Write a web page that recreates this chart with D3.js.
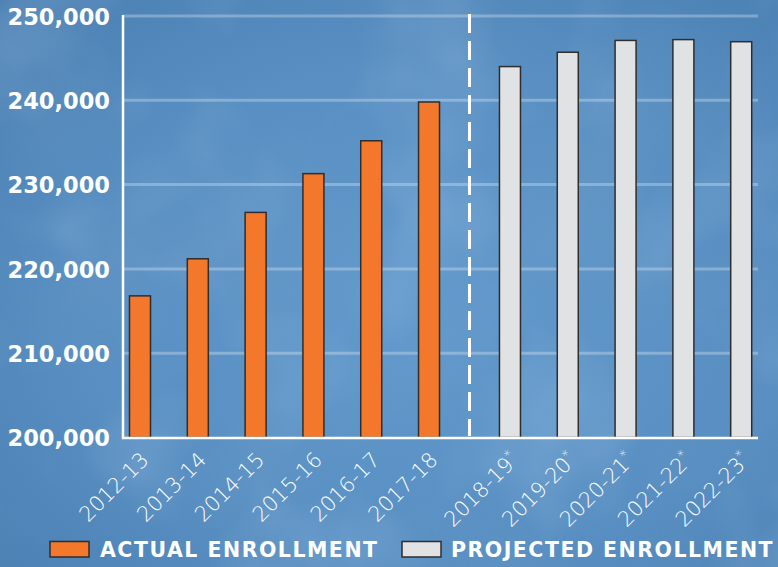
<!DOCTYPE html>
<html><head><meta charset="utf-8">
<script src="https://cdn.jsdelivr.net/npm/d3@7"></script>
<style>html,body{margin:0;padding:0;background:#5a8fc2;}svg{display:block;}</style>
</head><body>
<svg id="c" width="778" height="567"></svg>
<script>
const actualYears = ["2012-13","2013-14","2014-15","2015-16","2016-17","2017-18"];
const actualValues = [216800, 221200, 226700, 231300, 235200, 239800];
const projectedYears = ["2018-19","2019-20","2020-21","2021-22","2022-23"];
const projectedValues = [244000, 245700, 247100, 247200, 246950];
const yTicks = [200000, 210000, 220000, 230000, 240000, 250000];
const legendLabels = ["ACTUAL ENROLLMENT", "PROJECTED ENROLLMENT"];

const W = 778, H = 567;
const svg = d3.select("#c");
const defs = svg.append("defs");

// background
const bg = defs.append("radialGradient").attr("id","bg").attr("cx","55%").attr("cy","55%").attr("r","75%");
bg.append("stop").attr("offset","0%").attr("stop-color","#639acc");
bg.append("stop").attr("offset","60%").attr("stop-color","#588ec1");
bg.append("stop").attr("offset","100%").attr("stop-color","#4a7fb2");
svg.append("rect").attr("width",W).attr("height",H).attr("fill","url(#bg)");
const f = defs.append("filter").attr("id","noise").attr("x",0).attr("y",0).attr("width","100%").attr("height","100%");
f.append("feTurbulence").attr("type","fractalNoise").attr("baseFrequency","0.008").attr("numOctaves",3).attr("seed",4).attr("result","n");
f.append("feColorMatrix").attr("in","n").attr("type","matrix")
  .attr("values","0 0 0 0 0.55  0 0 0 0 0.75  0 0 0 0 0.95  1.6 0 0 0 -0.75");
svg.append("rect").attr("width",W).attr("height",H).attr("filter","url(#noise)").attr("opacity",0.25);
const f2 = defs.append("filter").attr("id","noise2").attr("x",0).attr("y",0).attr("width","100%").attr("height","100%");
f2.append("feTurbulence").attr("type","fractalNoise").attr("baseFrequency","0.006").attr("numOctaves",2).attr("seed",11).attr("result","n");
f2.append("feColorMatrix").attr("in","n").attr("type","matrix")
  .attr("values","0 0 0 0 0.2  0 0 0 0 0.38  0 0 0 0 0.6  1.6 0 0 0 -0.75");
svg.append("rect").attr("width",W).attr("height",H).attr("filter","url(#noise2)").attr("opacity",0.3);

// scales
const gapSlots = 0.4;
const data = actualYears.map((c,i)=>({cat:c, v:actualValues[i], slot:i, proj:false}))
  .concat(projectedYears.map((c,i)=>({cat:c, v:projectedValues[i], slot:actualYears.length+i+gapSlots, proj:true})));
const lastSlot = data[data.length-1].slot;
const x = d3.scaleLinear().domain([0, lastSlot]).range([140, 741.2]);
const y = d3.scaleLinear().domain([200000, 250000]).range([437.5, 16]);
const barW = 21;
const axisX = 123, axisRight = 758;

// gridlines
svg.append("g").selectAll("line").data(yTicks.filter(t=>t>200000)).join("line")
  .attr("x1",axisX).attr("x2",axisRight).attr("y1",d=>y(d)).attr("y2",d=>y(d))
  .attr("stroke","rgba(255,255,255,0.28)").attr("stroke-width",3);

// y axis labels
const yAxis = d3.axisLeft(y).tickValues(yTicks).tickSize(0).tickPadding(0).tickFormat(d3.format(","));
const ga = svg.append("g").attr("transform",`translate(110,0)`).call(yAxis);
ga.select(".domain").remove();
ga.selectAll("text").attr("fill","#fff").attr("font-family","DejaVu Sans").attr("font-weight","bold")
  .attr("font-size",22.5).attr("dy","0.36em");

// dashed separator
const sepX = (x(actualYears.length-1) + x(actualYears.length+gapSlots))/2;
svg.append("line").attr("x1",sepX).attr("x2",sepX).attr("y1",14).attr("y2",436)
  .attr("stroke","#fff").attr("stroke-width",3).attr("stroke-dasharray","19,8");

// bars
svg.append("g").selectAll("rect").data(data).join("rect")
  .attr("x",d=>x(d.slot)-barW/2).attr("width",barW)
  .attr("y",d=>y(d.v)).attr("height",d=>y(200000)-y(d.v))
  .attr("fill",d=>d.proj?"#e1e2e4":"#f3782b").attr("stroke","#2e2e2e").attr("stroke-width",1.5);

// axes lines
svg.append("line").attr("x1",axisX).attr("x2",axisX).attr("y1",15).attr("y2",439).attr("stroke","#fff").attr("stroke-width",2.5);
svg.append("line").attr("x1",axisX-1).attr("x2",axisRight).attr("y1",438).attr("y2",438).attr("stroke","#fff").attr("stroke-width",2.5);

// x labels
const xl = svg.append("g").selectAll("text").data(data).join("text")
  .attr("transform",d=>`translate(${x(d.slot)+10},${461}) rotate(-45)`)
  .attr("text-anchor","end").attr("fill","#fff").attr("font-family","DejaVu Sans").attr("font-weight",200)
  .attr("font-size",21);
xl.append("tspan").text(d=>d.cat);
xl.filter(d=>d.proj).append("tspan").attr("dy","-0.55em").attr("font-size",14).text("*");

// legend
const leg = [{label:legendLabels[0], fill:"#f3782b", x:50, tx:100},{label:legendLabels[1], fill:"#e1e2e4", x:402, tx:451}];
const lg = svg.append("g").selectAll("g").data(leg).join("g");
lg.append("rect").attr("x",d=>d.x).attr("y",541.5).attr("width",39).attr("height",15.5)
  .attr("fill",d=>d.fill).attr("stroke","#2e2e2e").attr("stroke-width",1.5);
lg.append("text").attr("x",d=>d.tx).attr("y",557).attr("fill","#fff").attr("font-family","DejaVu Sans")
  .attr("font-weight","bold").attr("font-size",20.5).attr("letter-spacing","1.5px").text(d=>d.label);
</script>
</body></html>
